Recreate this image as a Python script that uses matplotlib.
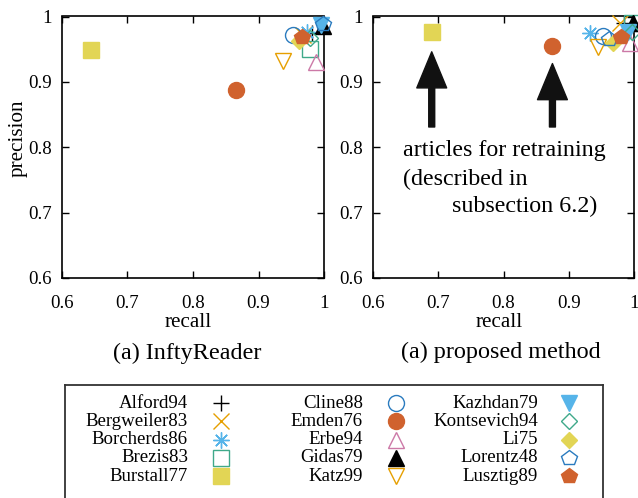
import matplotlib
matplotlib.use("Agg")
import matplotlib.pyplot as plt

plt.rcParams['font.family'] = ['Liberation Serif', 'DejaVu Serif']

# article names, in legend order
names = ["Alford94", "Bergweiler83", "Borcherds86", "Brezis83", "Burstall77",
         "Cline88", "Emden76", "Erbe94", "Gidas79", "Katz99",
         "Kazhdan79", "Kontsevich94", "Li75", "Lorentz48", "Lusztig89"]

# (a) InftyReader
infty_recall = [0.981, 0.968, 0.974, 0.978, 0.644,
                0.952, 0.866, 0.988, 0.999, 0.937,
                0.996, 0.978, 0.962, 0.998, 0.966]
infty_precision = [0.974, 0.972, 0.977, 0.950, 0.949,
                   0.972, 0.887, 0.930, 0.986, 0.932,
                   0.987, 0.967, 0.962, 0.988, 0.969]

# (a) proposed method
proposed_recall = [0.984, 0.978, 0.933, 0.997, 0.690,
                   0.953, 0.875, 0.994, 0.999, 0.945,
                   0.991, 0.997, 0.968, 0.962, 0.980]
proposed_precision = [0.990, 0.990, 0.974, 0.990, 0.976,
                      0.970, 0.955, 0.960, 0.990, 0.953,
                      0.977, 0.977, 0.959, 0.965, 0.969]

ticks = [0.6, 0.7, 0.8, 0.9, 1.0]
tick_labels = ["0.6", "0.7", "0.8", "0.9", "1"]

# marker styles (gnuplot-like point types)
styles = [
    dict(marker='+', color='black', fill=False),
    dict(marker='x', color='#E69F00', fill=False),
    dict(marker=(8, 2, 0), color='#56B4E9', fill=False),
    dict(marker='s', color='#3FA98A', fill=False),
    dict(marker='s', color='#E2D555', fill=True),
    dict(marker='o', color='#2A7BBF', fill=False),
    dict(marker='o', color='#D0622E', fill=True),
    dict(marker='^', color='#CC79A7', fill=False),
    dict(marker='^', color='black', fill=True),
    dict(marker='v', color='#E69F00', fill=False),
    dict(marker='v', color='#56B4E9', fill=True),
    dict(marker='D', color='#3FA98A', fill=False),
    dict(marker='D', color='#E2D555', fill=True),
    dict(marker='p', color='#2A7BBF', fill=False),
    dict(marker='p', color='#D0622E', fill=True),
]


def marker_kw(st):
    ms = 8.0 if st['marker'] == 'D' else 11.5
    kw = dict(marker=st['marker'], ms=ms, mec=st['color'], mew=1.0,
              linestyle='none')
    kw['mfc'] = st['color'] if st['fill'] else 'none'
    return kw


W, H = 638, 498
fig = plt.figure(figsize=(W / 100, H / 100), dpi=100)


def px_axes(x0, y0, x1, y1):
    return fig.add_axes([x0 / W, 1 - y1 / H, (x1 - x0) / W, (y1 - y0) / H])


def setup(ax):
    ax.set_xlim(0.6, 1.0)
    ax.set_ylim(0.6, 1.0)
    ax.set_xticks(ticks)
    ax.set_xticklabels(tick_labels)
    ax.set_yticks(ticks)
    ax.set_yticklabels(tick_labels)
    ax.tick_params(direction='in', length=5, width=1.0, labelsize=13.6,
                   top=True, right=True, pad=7)
    ax.tick_params(axis='x', pad=12)
    for s in ax.spines.values():
        s.set_linewidth(1.2)
    ax.set_xlabel("recall", fontsize=15.2)
    ax.xaxis.label.set_va('center')
    ax.xaxis.set_label_coords(0.482, -0.172)


ax1 = px_axes(62, 16.5, 324, 278)
ax2 = px_axes(373, 16.5, 634, 278)
setup(ax1)
setup(ax2)
ax1.set_ylabel("precision", fontsize=15.2)
ax1.yaxis.label.set_va('center')
ax1.yaxis.set_label_coords(-0.168, 0.535)

for i, st in enumerate(styles):
    ax1.plot(infty_recall[i], infty_precision[i], clip_on=False, zorder=3,
             **marker_kw(st))
    ax2.plot(proposed_recall[i], proposed_precision[i], clip_on=False, zorder=3,
             **marker_kw(st))

# annotation arrows in the right panel
arrow_style = 'simple,head_length=2.6,head_width=2.15,tail_width=0.43'
ax2.annotate('', xy=(proposed_recall[4], 0.946), xytext=(proposed_recall[4], 0.831),
             arrowprops=dict(arrowstyle=arrow_style, color='#111111',
                             shrinkA=0, shrinkB=0, mutation_scale=10))
ax2.annotate('', xy=(proposed_recall[6], 0.928), xytext=(proposed_recall[6], 0.831),
             arrowprops=dict(arrowstyle=arrow_style, color='#111111',
                             shrinkA=0, shrinkB=0, mutation_scale=10))
ax2.text(0.6465, 0.795, "articles for retraining", fontsize=17.3, va='center')
ax2.text(0.6465, 0.750, "(described in", fontsize=17.3, va='center')
ax2.text(0.7206, 0.709, "subsection 6.2)", fontsize=17.3, va='center')

# sub captions
fig.text(187 / W, 1 - 353 / H, "(a) InftyReader", fontsize=17.4,
         ha='center', va='center')
fig.text(501 / W, 1 - 352 / H, "(a) proposed method", fontsize=17.4,
         ha='center', va='center')

# legend box (bottom edge runs off the figure)
lax = px_axes(65, 385, 603, 520)
lax.set_xlim(65, 603)
lax.set_ylim(520, 385)
lax.set_xticks([])
lax.set_yticks([])
for s in lax.spines.values():
    s.set_linewidth(1.3)
    s.set_color('#333333')

text_right = [188, 363, 538]
mark_x = [221, 396, 569]
for i, (name, st) in enumerate(zip(names, styles)):
    col, row = divmod(i, 5)
    y = 403 + 18.3 * row
    lax.text(text_right[col], y, name, fontsize=13.6, ha='right', va='center')
    lax.plot(mark_x[col], y, **marker_kw(st))

fig.savefig("out.png", dpi=100)
